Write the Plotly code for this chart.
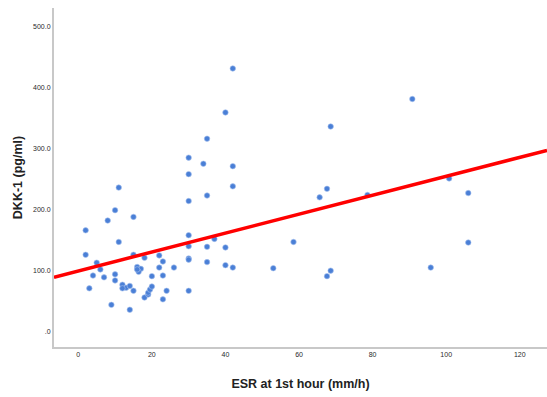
import plotly.graph_objects as go

# ESR at 1st hour (mm/h) vs DKK-1 (pg/ml)
esr = [2, 2, 3, 4, 5, 6, 7, 8, 9, 10, 10, 10, 11, 11, 12, 13, 12, 14, 15, 14,
       15, 15, 16, 17, 16.4, 16, 18, 20, 22, 23, 22, 23, 26, 18, 19, 19, 19.5,
       20, 23, 24, 30, 30, 30, 30, 30, 30, 30, 30, 34, 35, 35, 35, 35, 37, 40,
       40, 40, 42, 42, 42, 42, 53, 58.5, 65.6, 67.6, 68.6, 68.6, 67.6, 78.6,
       90.8, 95.8, 100.8, 106, 106]
dkk1 = [166, 126, 71, 92, 113, 102, 89, 182, 44, 199, 94, 84, 236, 147, 77,
        72, 71, 75, 67, 36, 188, 126, 106, 103, 98, 102, 121, 91, 125, 115,
        105, 92, 105, 56, 61, 64, 69, 74, 53, 67, 214, 158, 140, 120, 118, 67,
        285, 258, 275, 316, 223, 139, 114, 152, 359, 138, 109, 431, 271, 238,
        105, 104, 147, 220, 234, 336, 100, 91, 224, 381, 105, 251, 227, 146]

# Fit line
fit_intercept = 99.5
fit_slope = 1.55

x_range = [-6.6, 127.4]
y_range = [-25, 530]

x_tick_vals = [0, 20, 40, 60, 80, 100, 120]
x_tick_text = ["0", "20", "40", "60", "80", "100", "120"]
y_tick_vals = [0, 100, 200, 300, 400, 500]
y_tick_text = [".0", "100.0", "200.0", "300.0", "400.0", "500.0"]

fig = go.Figure()
fig.add_trace(go.Scatter(
    x=esr, y=dkk1, mode="markers",
    marker=dict(size=5.5, color="#4A7FD6", line=dict(width=0.6, color="#A9C3EE")),
    showlegend=False, hoverinfo="x+y"))
fig.add_trace(go.Scatter(
    x=x_range, y=[fit_intercept + fit_slope * v for v in x_range],
    mode="lines", line=dict(color="#FF0000", width=3.5),
    showlegend=False, hoverinfo="skip"))

font_family = "Arial, Liberation Sans, sans-serif"
fig.update_layout(
    width=547, height=397,
    margin=dict(l=54, r=0, t=8, b=50),
    paper_bgcolor="white", plot_bgcolor="white",
    font=dict(family=font_family, color="#222222"),
    xaxis=dict(range=x_range, tickvals=x_tick_vals, ticktext=x_tick_text,
               showgrid=False, zeroline=False, showline=True,
               linecolor="#C8C8C8", linewidth=2, ticks="",
               tickfont=dict(size=7, color="#2A2A2A"),
               title=dict(text="<b>ESR at 1st hour (mm/h)</b>",
                          font=dict(size=12.5, color="#222222"), standoff=22)),
    yaxis=dict(range=y_range, tickvals=y_tick_vals, ticktext=y_tick_text,
               showgrid=False, zeroline=False, showline=True,
               linecolor="#C8C8C8", linewidth=2, ticks="",
               tickfont=dict(size=7, color="#2A2A2A"),
               title=dict(text="<b>DKK-1 (pg/ml)</b>",
                          font=dict(size=12.5, color="#222222"), standoff=8)),
)

fig.write_html("out.html", config={"displayModeBar": False})

# remove the browser's default page margin so the figure sits at (0, 0)
with open("out.html", "r", encoding="utf-8") as f:
    html = f.read()
html = html.replace("<head>", "<head><style>html,body{margin:0;padding:0;overflow:hidden}</style>", 1)
with open("out.html", "w", encoding="utf-8") as f:
    f.write(html)
